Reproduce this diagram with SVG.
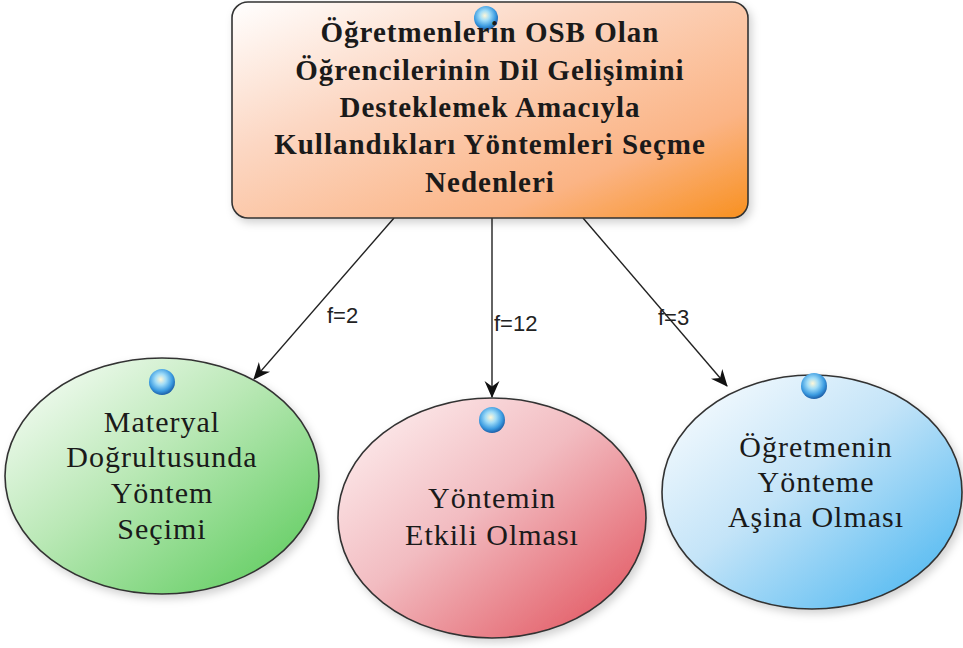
<svg xmlns="http://www.w3.org/2000/svg" width="963" height="648" viewBox="0 0 963 648">
  <style>
    .title { font-family: "Liberation Serif", "Times New Roman", serif; font-weight: bold; font-size: 29px; fill: #1a1a1a; text-anchor: middle; letter-spacing: 1px; }
    .label { font-family: "Liberation Serif", "Times New Roman", serif; font-size: 30px; fill: #1a1a1a; text-anchor: middle; letter-spacing: 1px; }
    .edge-label { font-family: "Liberation Sans", Arial, sans-serif; font-size: 22px; fill: #222; }
    .edge { stroke: #222; stroke-width: 1.4; fill: none; marker-end: url(#arrow); }
    .outline { stroke: #333; stroke-width: 1.6; }
  </style>
  <defs>
    <linearGradient id="gOrange" x1="0" y1="0" x2="1" y2="1">
      <stop offset="0" stop-color="#ffffff"/>
      <stop offset="0.35" stop-color="#fcd7c3"/>
      <stop offset="0.75" stop-color="#fbb485"/>
      <stop offset="1" stop-color="#f8901f"/>
    </linearGradient>
    <linearGradient id="gGreen" x1="0" y1="0" x2="1" y2="1">
      <stop offset="0" stop-color="#ffffff"/>
      <stop offset="0.45" stop-color="#b9e8b5"/>
      <stop offset="1" stop-color="#55c955"/>
    </linearGradient>
    <linearGradient id="gRed" x1="0" y1="0" x2="1" y2="1">
      <stop offset="0" stop-color="#fff5f5"/>
      <stop offset="0.45" stop-color="#f2bcc1"/>
      <stop offset="1" stop-color="#e04a55"/>
    </linearGradient>
    <linearGradient id="gBlue" x1="0" y1="0" x2="1" y2="1">
      <stop offset="0" stop-color="#ffffff"/>
      <stop offset="0.45" stop-color="#c4e4f8"/>
      <stop offset="1" stop-color="#3fb2f0"/>
    </linearGradient>
    <radialGradient id="gDot" cx="0.45" cy="0.4" r="0.6">
      <stop offset="0" stop-color="#fff7d8"/>
      <stop offset="0.35" stop-color="#9fdcf8"/>
      <stop offset="0.75" stop-color="#3a9ae0"/>
      <stop offset="1" stop-color="#1d5fa8"/>
    </radialGradient>
    <filter id="shadow" x="-10%" y="-10%" width="125%" height="130%">
      <feDropShadow dx="3" dy="4" stdDeviation="4" flood-color="#000" flood-opacity="0.18"/>
    </filter>
    <!-- swept arrowhead shared by all connectors -->
    <marker id="arrow" viewBox="0 0 16 16" refX="15" refY="8" markerWidth="17" markerHeight="17" markerUnits="userSpaceOnUse" orient="auto">
      <path d="M0,1 L16,8 L0,15 L5,8 Z" fill="#111"/>
    </marker>
  </defs>

  <rect width="963" height="648" fill="#ffffff"/>

  <!-- connectors -->
  <g id="connectors">
    <line class="edge" x1="394" y1="218" x2="254" y2="379"/>
    <line class="edge" x1="492" y1="218" x2="492" y2="397"/>
    <line class="edge" x1="583" y1="218" x2="727" y2="386"/>
    <text class="edge-label" x="327" y="323">f=2</text>
    <text class="edge-label" x="494" y="331">f=12</text>
    <text class="edge-label" x="658" y="325">f=3</text>
  </g>

  <!-- root node -->
  <g id="root">
    <rect class="outline" x="232" y="2" width="516" height="216" rx="16" ry="16" fill="url(#gOrange)" filter="url(#shadow)"/>
    <circle cx="486" cy="18" r="12" fill="url(#gDot)"/>
    <text class="title" x="490" y="42">Öğretmenlerin OSB Olan</text>
    <text class="title" x="490" y="80">Öğrencilerinin Dil Gelişimini</text>
    <text class="title" x="490" y="117">Desteklemek Amacıyla</text>
    <text class="title" x="490" y="154">Kullandıkları Yöntemleri Seçme</text>
    <text class="title" x="490" y="192">Nedenleri</text>
  </g>

  <!-- child: material-driven choice -->
  <g id="node-materyal">
    <ellipse class="outline" cx="162" cy="476" rx="157" ry="118" fill="url(#gGreen)" filter="url(#shadow)"/>
    <circle cx="162" cy="382" r="13" fill="url(#gDot)"/>
    <text class="label" x="162" y="432">Materyal</text>
    <text class="label" x="162" y="467">Doğrultusunda</text>
    <text class="label" x="162" y="503">Yöntem</text>
    <text class="label" x="162" y="539">Seçimi</text>
  </g>

  <!-- child: method effectiveness -->
  <g id="node-etkili">
    <ellipse class="outline" cx="492" cy="518" rx="154" ry="120" fill="url(#gRed)" filter="url(#shadow)"/>
    <circle cx="492" cy="420" r="13" fill="url(#gDot)"/>
    <text class="label" x="492" y="508">Yöntemin</text>
    <text class="label" x="492" y="545">Etkili Olması</text>
  </g>

  <!-- child: teacher familiarity -->
  <g id="node-asina">
    <ellipse class="outline" cx="812" cy="492" rx="150" ry="117" fill="url(#gBlue)" filter="url(#shadow)"/>
    <circle cx="814" cy="386" r="13" fill="url(#gDot)"/>
    <text class="label" x="816" y="457">Öğretmenin</text>
    <text class="label" x="816" y="492">Yönteme</text>
    <text class="label" x="816" y="527">Aşina Olması</text>
  </g>
</svg>
